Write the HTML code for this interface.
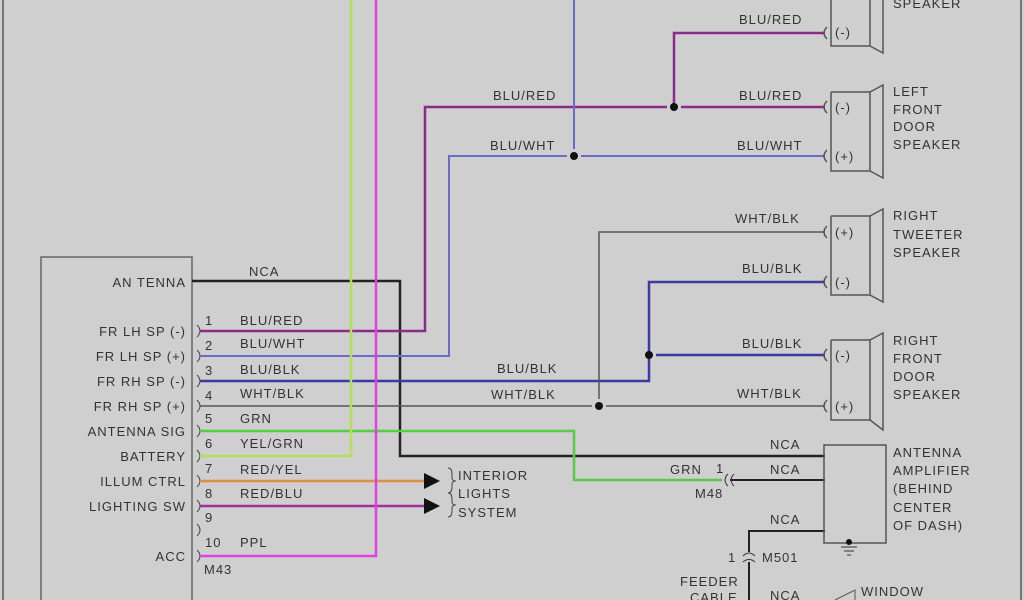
<!DOCTYPE html>
<html><head><style>
html,body{margin:0;padding:0;background:#cfcfcf;}
svg{display:block;}
text{font-family:"Liberation Sans",sans-serif;font-size:13px;fill:#333;letter-spacing:1px;}
</style></head><body>
<svg width="1024" height="600" viewBox="0 0 1024 600" xmlns="http://www.w3.org/2000/svg">
<rect width="1024" height="600" fill="#cfcfcf"/>
<line x1="3" y1="0" x2="3" y2="600" stroke="#777" stroke-width="2"/>
<line x1="1021" y1="0" x2="1021" y2="600" stroke="#777" stroke-width="2"/>
<!-- head unit -->
<rect x="41" y="257" width="151" height="360" fill="none" stroke="#666" stroke-width="1.5"/>
<g text-anchor="end">
<text x="186" y="287">AN TENNA</text>
<text x="186" y="336">FR LH SP (-)</text>
<text x="186" y="361">FR LH SP (+)</text>
<text x="186" y="386">FR RH SP (-)</text>
<text x="186" y="411">FR RH SP (+)</text>
<text x="186" y="436">ANTENNA SIG</text>
<text x="186" y="461">BATTERY</text>
<text x="186" y="486">ILLUM CTRL</text>
<text x="186" y="511">LIGHTING SW</text>
<text x="186" y="561">ACC</text>
</g>
<g font-size="12">
<text x="205" y="325">1</text><text x="205" y="350">2</text><text x="205" y="375">3</text><text x="205" y="400">4</text><text x="205" y="423">5</text><text x="205" y="448">6</text><text x="205" y="473">7</text><text x="205" y="498">8</text><text x="205" y="522">9</text><text x="205" y="547">10</text>
<text x="204" y="574">M43</text>
</g>
<text x="240" y="325">BLU/RED</text><text x="240" y="348">BLU/WHT</text><text x="240" y="374">BLU/BLK</text><text x="240" y="398">WHT/BLK</text><text x="240" y="423">GRN</text><text x="240" y="448">YEL/GRN</text><text x="240" y="474">RED/YEL</text><text x="240" y="498">RED/BLU</text><text x="240" y="547">PPL</text>
<text x="249" y="276">NCA</text>
<!-- pin brackets -->
<g fill="none" stroke="#444" stroke-width="1">
<path d="M197,325 q6,6 0,12"/><path d="M197,350 q6,6 0,12"/><path d="M197,375 q6,6 0,12"/><path d="M197,400 q6,6 0,12"/><path d="M197,425 q6,6 0,12"/><path d="M197,450 q6,6 0,12"/><path d="M197,475 q6,6 0,12"/><path d="M197,500 q6,6 0,12"/><path d="M197,524 q6,6 0,12"/><path d="M197,550 q6,6 0,12"/>
</g>
<!-- wires -->
<g fill="none" stroke-width="2.5">
<polyline points="192,281 400,281 400,456 825,456" stroke="#222"/>
<polyline points="200,331 425,331 425,107 667,107" stroke="#8a2a8a"/>
<polyline points="681,107 825,107" stroke="#8a2a8a"/>
<polyline points="674,107 674,33 825,33" stroke="#8a2a8a"/>
<polyline points="200,356 449,356 449,156 567,156" stroke="#6a6ac8" stroke-width="2"/>
<polyline points="581,156 825,156" stroke="#6a6ac8" stroke-width="2"/>
<polyline points="574,0 574,149" stroke="#6a6ac8" stroke-width="2"/>
<polyline points="200,381 649,381 649,282 825,282" stroke="#3a3aa0"/>
<polyline points="656,355 825,355" stroke="#3a3aa0"/>
<polyline points="200,406 592,406" stroke="#555" stroke-width="1.5"/>
<polyline points="606,406 825,406" stroke="#555" stroke-width="1.5"/>
<polyline points="599,399 599,232 825,232" stroke="#555" stroke-width="1.5"/>
<polyline points="200,431 574,431 574,480 722,480" stroke="#55cc44"/>
<polyline points="200,456 351,456 351,0" stroke="#b3e05a"/>
<polyline points="200,481 425,481" stroke="#d9904a"/>
<polyline points="200,506 425,506" stroke="#a030a0"/>
<polyline points="200,556 376,556 376,0" stroke="#e040e0"/>
<polyline points="730,480 825,480" stroke="#222" stroke-width="2"/>
<polyline points="825,531 749,531 749,552" stroke="#222" stroke-width="2"/>
<polyline points="749,562 749,600" stroke="#222" stroke-width="2"/>
</g>
<circle cx="674" cy="107" r="4" fill="#111"/>
<circle cx="574" cy="156" r="4" fill="#111"/>
<circle cx="649" cy="355" r="4" fill="#111"/>
<circle cx="599" cy="406" r="4" fill="#111"/>
<!-- arrows -->
<polygon points="424,473 440,481 424,489" fill="#111"/>
<polygon points="424,498 440,506 424,514" fill="#111"/>
<path d="M448,468 q4,0 4,6 v4 q0,3 4,3 q-4,0 -4,3 v3 q0,6 -4,6" fill="none" stroke="#444"/>
<path d="M448,493 q4,0 4,6 v3 q0,3 4,3 q-4,0 -4,3 v3 q0,6 -4,6" fill="none" stroke="#444"/>
<text x="458" y="480">INTERIOR</text><text x="458" y="498">LIGHTS</text><text x="458" y="517">SYSTEM</text>
<!-- wire labels right -->
<text x="739" y="24">BLU/RED</text>
<text x="493" y="100">BLU/RED</text><text x="739" y="100">BLU/RED</text>
<text x="490" y="150">BLU/WHT</text><text x="737" y="150">BLU/WHT</text>
<text x="735" y="223">WHT/BLK</text><text x="742" y="273">BLU/BLK</text>
<text x="742" y="348">BLU/BLK</text><text x="497" y="373">BLU/BLK</text>
<text x="737" y="398">WHT/BLK</text><text x="491" y="399">WHT/BLK</text>
<text x="770" y="449">NCA</text><text x="770" y="474">NCA</text><text x="770" y="524">NCA</text><text x="770" y="600">NCA</text>
<text x="670" y="474">GRN</text><text x="716" y="473" font-size="12">1</text><text x="695" y="498" font-size="12">M48</text>
<text x="728" y="562" font-size="12">1</text><text x="762" y="562" font-size="12">M501</text>
<text x="680" y="586">FEEDER</text><text x="690" y="602">CABLE</text>
<!-- M48 connector -->
<path d="M728,474 q-6,6 0,12 M734,474 q-6,6 0,12" fill="none" stroke="#333"/>
<path d="M743,556 q6,-6 12,0 M743,562 q6,-5 12,0" fill="none" stroke="#333"/>
<!-- speakers -->
<g fill="none" stroke="#555" stroke-width="1.5">
<path d="M831,-10 V46 H870 V-10 M870,46 L883,53 V-10"/>
<path d="M831,92 V171 H870 V92 H831 M870,92 L883,85 V178 L870,171"/>
<path d="M831,216 V295 H870 V216 H831 M870,216 L883,209 V302 L870,295"/>
<path d="M831,340 V420 H870 V340 H831 M870,340 L883,333 V430 L870,420"/>
<path d="M827,27 q-6,6 0,12 M827,101 q-6,6 0,12 M827,150 q-6,6 0,12 M827,226 q-6,6 0,12 M827,276 q-6,6 0,12 M827,349 q-6,6 0,12 M827,400 q-6,6 0,12"/>
</g>
<g font-size="11"><text x="835" y="37">(-)</text><text x="835" y="112">(-)</text><text x="835" y="161">(+)</text><text x="835" y="237">(+)</text><text x="835" y="287">(-)</text><text x="835" y="360">(-)</text><text x="835" y="411">(+)</text></g>
<text x="893" y="8">SPEAKER</text>
<text x="893" y="96">LEFT</text><text x="893" y="114">FRONT</text><text x="893" y="131">DOOR</text><text x="893" y="149">SPEAKER</text>
<text x="893" y="220">RIGHT</text><text x="893" y="239">TWEETER</text><text x="893" y="257">SPEAKER</text>
<text x="893" y="345">RIGHT</text><text x="893" y="363">FRONT</text><text x="893" y="381">DOOR</text><text x="893" y="399">SPEAKER</text>
<!-- amp -->
<rect x="824" y="445" width="62" height="98" fill="none" stroke="#555" stroke-width="1.5"/>
<circle cx="849" cy="542" r="3" fill="#111"/>
<path d="M841,547 H857 M844,551 H854 M847,555 H851" stroke="#333"/>
<text x="893" y="457">ANTENNA</text><text x="893" y="475">AMPLIFIER</text><text x="893" y="493">(BEHIND</text><text x="893" y="512">CENTER</text><text x="893" y="530">OF DASH)</text>
<path d="M835,600 L855,590 V600" fill="none" stroke="#555"/>
<text x="861" y="596">WINDOW</text>
</svg>
</body></html>
